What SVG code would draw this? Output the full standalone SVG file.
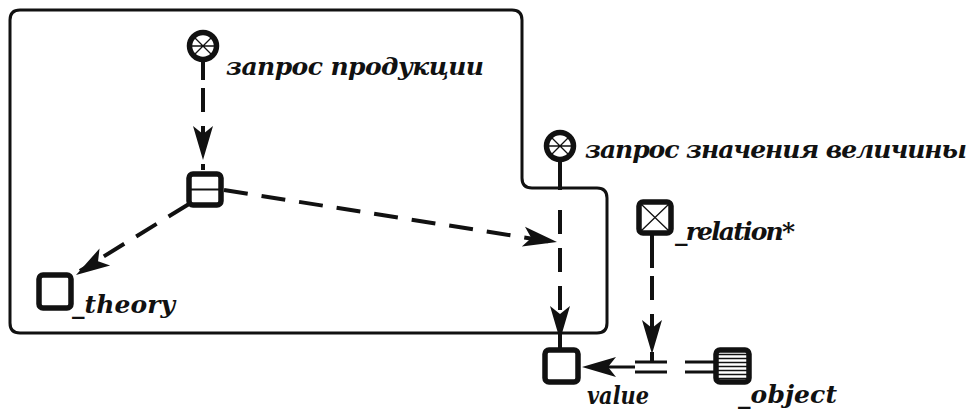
<svg xmlns="http://www.w3.org/2000/svg" xmlns:xlink="http://www.w3.org/1999/xlink" width="976" height="412" viewBox="0 0 976 412">
  <style>
    .frame{fill:none;stroke:#111;stroke-width:3;stroke-linejoin:round}
    .node{fill:#fff;stroke:#111;stroke-width:5.5}
    .thin{fill:none;stroke:#111;stroke-width:1.3}
    .solid{fill:none;stroke:#111;stroke-width:4}
    .dash{fill:none;stroke:#111;stroke-width:4;stroke-dasharray:24 14}
    .lbl{font-family:"DejaVu Serif",serif;font-weight:bold;font-style:italic;font-size:25px;fill:#111}
  </style>
  <defs>
    <!-- swallow-tail arrowhead, tip at origin, pointing along +x -->
    <path id="ah" d="M0,0 L-34,-10 L-26,0 L-34,10 Z" fill="#111"/>
    <!-- query node: ring with six spokes -->
    <g id="wheel">
      <circle r="13.5" class="node"/>
      <path class="thin" d="M-11,0 H11 M-8,-8 L8,8 M-8,8 L8,-8"/>
    </g>
  </defs>

  <rect width="976" height="412" fill="#fff"/>

  <!-- contour -->
  <g id="contour">
    <path class="frame" d="M20,10 H512 Q522,10 522,20 V178 Q522,188 532,188 H597 Q607,188 607,198 V323 Q607,333 597,333 H20 Q10,333 10,323 V20 Q10,10 20,10 Z"/>
  </g>

  <!-- connectors -->
  <g id="connectors">
    <!-- запрос продукции -> tuple -->
    <path class="solid" d="M203,60 V80"/>
    <path class="dash" d="M203,88 V170"/>
    <use xlink:href="#ah" transform="translate(203,160) rotate(90)"/>

    <!-- tuple -> _theory -->
    <path class="dash" d="M189,204 L80,271"/>
    <use xlink:href="#ah" transform="translate(76,275) rotate(148)"/>

    <!-- tuple -> value arc -->
    <path class="dash" d="M224,190 L553,242"/>
    <use xlink:href="#ah" transform="translate(557,242) rotate(9)"/>

    <!-- запрос значения величины -> value -->
    <path class="solid" d="M560,160 V190"/>
    <path class="dash" d="M560,210 V348"/>
    <use xlink:href="#ah" transform="translate(560,340) rotate(90)"/>

    <!-- _relation* attribute arc -->
    <path class="solid" d="M652,235 V268"/>
    <path class="dash" d="M652,276 V362"/>
    <use xlink:href="#ah" transform="translate(652,354) rotate(90)"/>

    <!-- _object -> value -->
    <path class="solid" style="stroke-width:3" d="M714,362 H685 M714,372 H685 M667,362 H635 M667,372 H635"/>
    <path class="solid" style="stroke-width:3" d="M635,367 H600"/>
    <use xlink:href="#ah" transform="translate(582,367) rotate(180)"/>
  </g>

  <!-- nodes -->
  <g id="query-production">
    <use xlink:href="#wheel" transform="translate(203,46)"/>
    <text class="lbl" x="226" y="75" textLength="258">запрос продукции</text>
  </g>

  <g id="query-value">
    <use xlink:href="#wheel" transform="translate(560,146)"/>
    <text class="lbl" x="585" y="158" textLength="382">запрос значения величины</text>
  </g>

  <g id="tuple">
    <rect class="node" x="189" y="174" width="32" height="31" rx="4"/>
    <path class="thin" style="stroke-width:2" d="M189,189.5 H221"/>
  </g>

  <g id="theory">
    <rect class="node" x="39" y="275" width="32" height="33" rx="4"/>
    <text class="lbl" x="72" y="313" textLength="103">_theory</text>
  </g>

  <g id="relation">
    <rect class="node" x="639" y="202" width="32" height="31" rx="4"/>
    <path class="thin" d="M641,204 L669,231 M641,231 L669,204"/>
    <text class="lbl" x="675" y="240" textLength="120">_relation*</text>
  </g>

  <g id="value">
    <rect class="node" x="545" y="350" width="33" height="32" rx="4"/>
    <text class="lbl" x="587" y="404" font-size="22" textLength="62" lengthAdjust="spacingAndGlyphs">value</text>
  </g>

  <g id="object">
    <rect class="node" x="716" y="350" width="33" height="32" rx="4"/>
    <path class="thin" d="M718,354.5 H747 M718,358.5 H747 M718,362.5 H747 M718,366.5 H747 M718,370.5 H747 M718,374.5 H747 M718,378.5 H747"/>
    <text class="lbl" x="738" y="403" textLength="99">_object</text>
  </g>
</svg>
